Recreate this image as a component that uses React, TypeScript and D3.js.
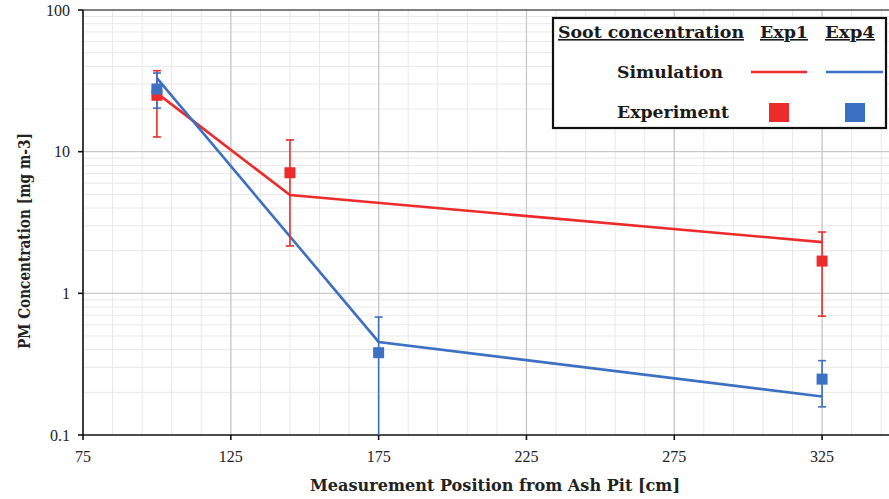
import React from "react";
import * as d3 from "d3";

// Measurement positions [cm] and soot concentrations [mg m-3]
const simExp1X = [100, 145, 325];
const simExp1Y = [25.9, 4.94, 2.3];
const simExp4X = [100, 175, 325];
const simExp4Y = [33, 0.454, 0.187];

const expX1 = [100, 145, 325];
const expExp1 = [25, 7.1, 1.69];
const expExp1Lo = [12.7, 2.16, 0.69];
const expExp1Hi = [37.3, 12.1, 2.71];

const expX4 = [100, 175, 325];
const expExp4 = [27.7, 0.381, 0.248];
const expExp4Lo = [20.3, 0.1, 0.158];
const expExp4Hi = [35.9, 0.68, 0.335];

const xTicks = [75, 125, 175, 225, 275, 325];
const yTicks = [0.1, 1, 10, 100];
const yTickLabels = ["0.1", "1", "10", "100"];

const RED = "#ee2b2b";
const BLUE = "#3c70c2";
const FONT = "'Liberation Serif', 'DejaVu Serif', serif";
const BOLD_FONT = "'DejaVu Serif', 'Liberation Serif', serif";

export default function App() {
  const W = 889;
  const H = 499;
  const x = d3.scaleLinear().domain([75, 350]).range([83, 896]);
  const y = d3.scaleLog().domain([0.1, 100]).range([435, 10]);

  const minorX = d3.range(75, 351, 10);
  const minorY: number[] = [];
  [0.1, 1, 10].forEach((d) => {
    for (let k = 2; k <= 9; k++) minorY.push(d * k);
  });

  const line = d3
    .line<[number, number]>()
    .x((d) => x(d[0]))
    .y((d) => y(d[1]));

  const sim1 = simExp1X.map((v, i) => [v, simExp1Y[i]] as [number, number]);
  const sim4 = simExp4X.map((v, i) => [v, simExp4Y[i]] as [number, number]);

  const errBars = (
    xs: number[],
    lo: number[],
    hi: number[],
    color: string
  ) =>
    xs.map((v, i) => {
      const cx = x(v);
      const y1 = y(Math.max(lo[i], 0.1));
      const y2 = y(hi[i]);
      return (
        <g key={`e${color}${i}`} stroke={color} strokeWidth={1.6}>
          <line x1={cx} x2={cx} y1={y1} y2={y2} />
          <line x1={cx - 4} x2={cx + 4} y1={y2} y2={y2} />
          {lo[i] > 0.1 && <line x1={cx - 4} x2={cx + 4} y1={y1} y2={y1} />}
        </g>
      );
    });

  const markers = (xs: number[], vals: number[], color: string) =>
    xs.map((v, i) => (
      <rect
        key={`m${color}${i}`}
        x={x(v) - 5.5}
        y={y(vals[i]) - 5.5}
        width={11}
        height={11}
        fill={color}
      />
    ));

  return (
    <svg
      width={W}
      height={H}
      style={{ position: "absolute", left: 0, top: 0, background: "#fff" }}
    >
      {/* minor grid */}
      <g stroke="#e8e8e8" strokeWidth={1}>
        {minorX.map((v) => (
          <line key={`mx${v}`} x1={x(v)} x2={x(v)} y1={10} y2={435} />
        ))}
        {minorY.map((v) => (
          <line key={`my${v}`} x1={83} x2={W} y1={y(v)} y2={y(v)} />
        ))}
      </g>
      {/* major grid */}
      <g stroke="#c9c9c9" strokeWidth={1.3}>
        {xTicks.slice(1).map((v) => (
          <line key={`Mx${v}`} x1={x(v)} x2={x(v)} y1={10} y2={435} />
        ))}
        {yTicks.slice(1, 3).map((v) => (
          <line key={`My${v}`} x1={83} x2={W} y1={y(v)} y2={y(v)} />
        ))}
      </g>
      <line x1={83} x2={W} y1={y(100)} y2={y(100)} stroke="#555" strokeWidth={1.5} />

      {/* axes */}
      <g stroke="#111" strokeWidth={1.6}>
        <line x1={83} x2={83} y1={10} y2={435} />
        <line x1={83} x2={W} y1={435} y2={435} />
        {yTicks.map((v) => (
          <line key={`yt${v}`} x1={78} x2={83} y1={y(v)} y2={y(v)} />
        ))}
        {xTicks.map((v) => (
          <line key={`xt${v}`} x1={x(v)} x2={x(v)} y1={435} y2={440} />
        ))}
      </g>
      <g fontFamily={FONT} fontSize={16} fill="#222">
        {yTicks.map((v, i) => (
          <text key={`yl${v}`} x={70} y={y(v) + 5.5} textAnchor="end">
            {yTickLabels[i]}
          </text>
        ))}
        {xTicks.map((v) => (
          <text key={`xl${v}`} x={x(v)} y={462} textAnchor="middle">
            {v}
          </text>
        ))}
      </g>
      <text
        x={495}
        y={491}
        textAnchor="middle"
        fontFamily={BOLD_FONT}
        fontWeight="bold"
        fontSize={16}
        fill="#222"
        textLength={370}
        lengthAdjust="spacingAndGlyphs"
      >
        Measurement Position from Ash Pit [cm]
      </text>
      <text
        transform="translate(30,241) rotate(-90)"
        textAnchor="middle"
        fontFamily={BOLD_FONT}
        fontWeight="bold"
        fontSize={16}
        fill="#222"
        textLength={216}
        lengthAdjust="spacingAndGlyphs"
      >
        PM Concentration [mg m-3]
      </text>

      {/* simulation lines */}
      <path d={line(sim1) || ""} fill="none" stroke={RED} strokeWidth={2.6} />
      <path d={line(sim4) || ""} fill="none" stroke={BLUE} strokeWidth={2.6} />

      {/* experiments */}
      {errBars(expX1, expExp1Lo, expExp1Hi, RED)}
      {errBars(expX4, expExp4Lo, expExp4Hi, BLUE)}
      {markers(expX1, expExp1, RED)}
      {markers(expX4, expExp4, BLUE)}

      {/* legend */}
      <rect x={553} y={18} width={333} height={110} fill="#fff" stroke="#111" strokeWidth={2.2} />
      <g fontFamily={BOLD_FONT} fontWeight="bold" fontSize={16} fill="#1a1a1a">
        <text x={558} y={38} textLength={186} lengthAdjust="spacingAndGlyphs" textDecoration="underline">
          Soot concentration
        </text>
        <text x={760} y={38} textLength={48} lengthAdjust="spacingAndGlyphs" textDecoration="underline">
          Exp1
        </text>
        <text x={825} y={38} textLength={50} lengthAdjust="spacingAndGlyphs" textDecoration="underline">
          Exp4
        </text>
        <text x={617} y={78} textLength={106} lengthAdjust="spacingAndGlyphs">
          Simulation
        </text>
        <text x={617} y={118} textLength={112} lengthAdjust="spacingAndGlyphs">
          Experiment
        </text>
      </g>
      <line x1={751} x2={807} y1={72} y2={72} stroke={RED} strokeWidth={2.6} />
      <line x1={826} x2={883} y1={72} y2={72} stroke={BLUE} strokeWidth={2.6} />
      <rect x={769} y={103} width={20} height={19} fill={RED} />
      <rect x={845} y={103} width={20} height={19} fill={BLUE} />
    </svg>
  );
}
